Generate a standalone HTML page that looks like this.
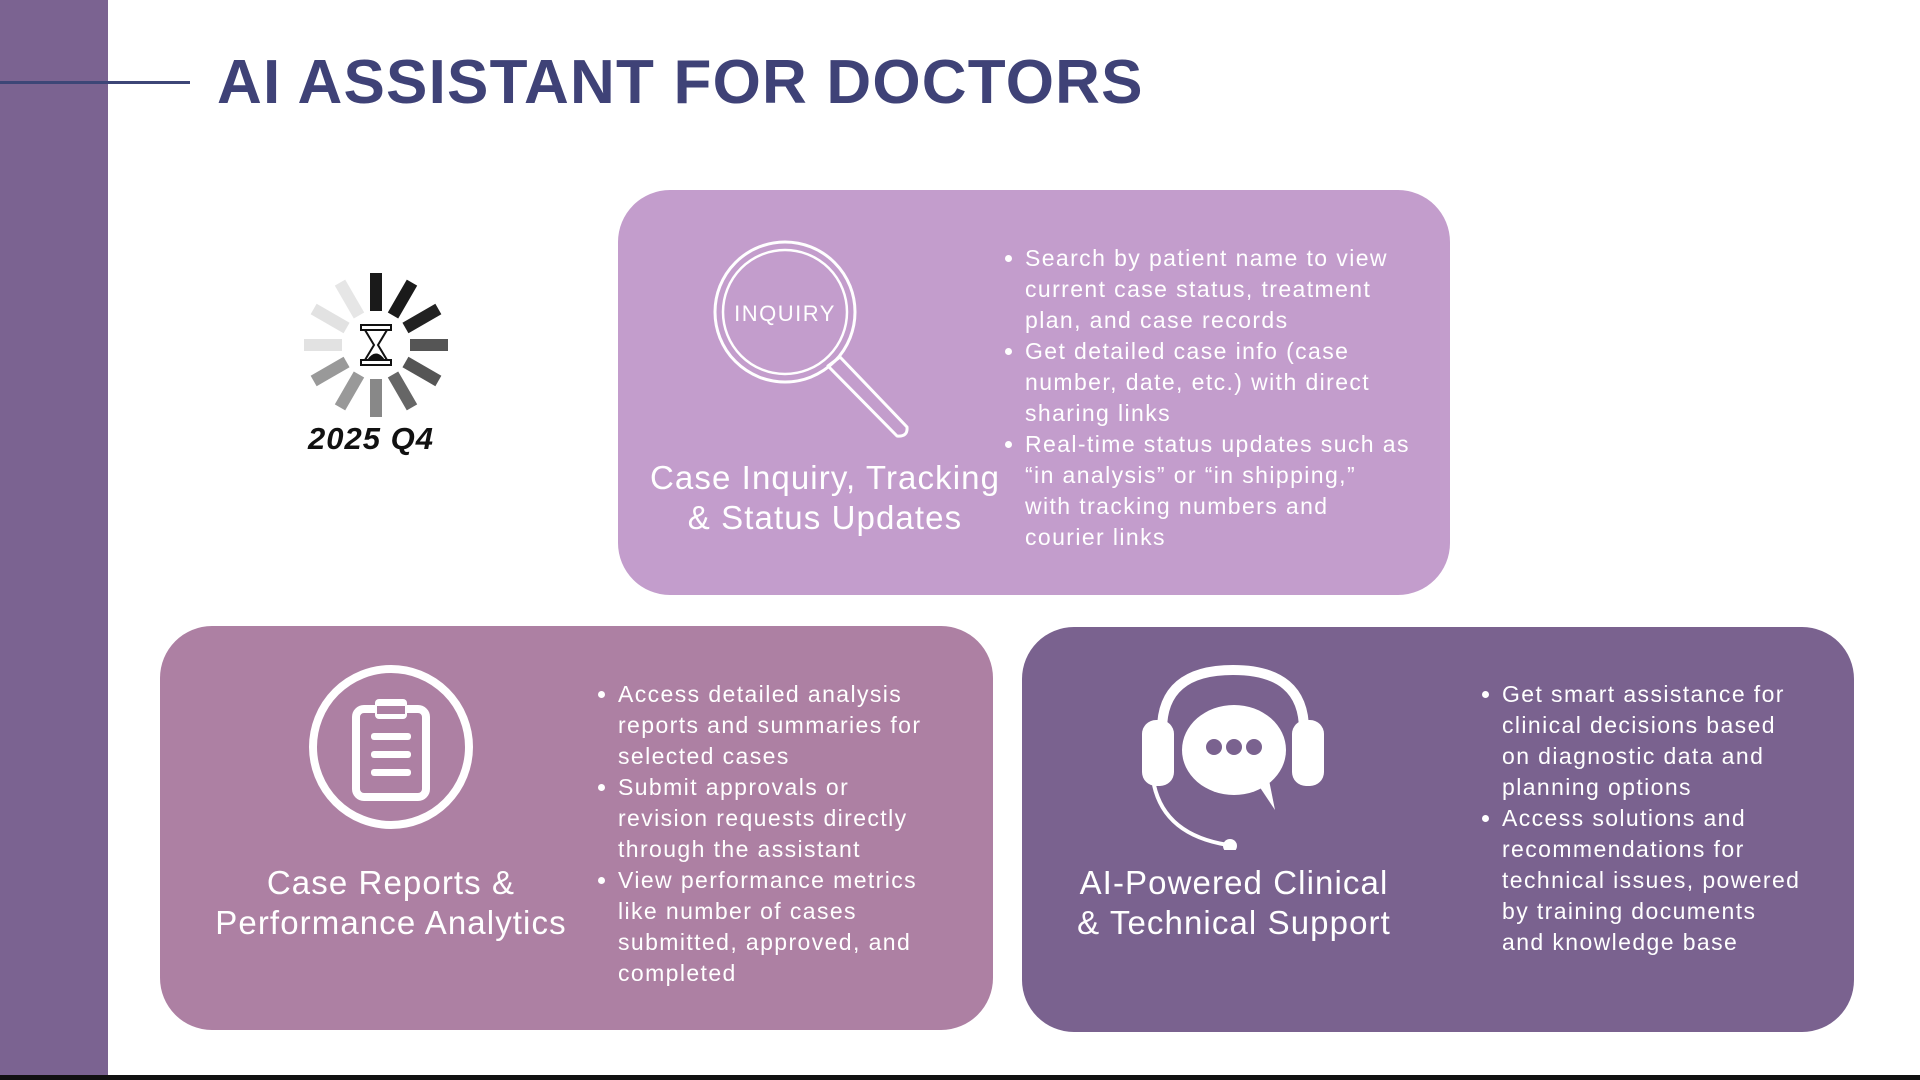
<!DOCTYPE html>
<html><head><meta charset="utf-8"><style>
html,body{margin:0;padding:0}
body{width:1920px;height:1080px;position:relative;overflow:hidden;background:#fff;font-family:"Liberation Sans",sans-serif}
.abs{position:absolute}
.box{position:absolute;border-radius:52px}
.ttl{position:absolute;color:#fff;font-size:33px;line-height:40px;text-align:center;letter-spacing:1.1px;white-space:nowrap}
ul{position:absolute;margin:0;padding:0 0 0 20px;color:#fff;font-size:23px;line-height:31px;letter-spacing:1.4px;list-style:none}
li{position:relative;white-space:nowrap}
li::before{content:"";position:absolute;left:-20px;top:12px;width:7px;height:7px;border-radius:50%;background:#fff}
li.n::before{display:none}
</style></head><body>
<div class="abs" style="left:0;top:0;width:108px;height:1080px;background:#7b6391"></div>
<div class="abs" style="left:0;top:81px;width:190px;height:3px;background:#3d4677"></div>
<div class="abs" style="left:217px;top:48px;font-size:62px;font-weight:bold;color:#3f4277;letter-spacing:1.2px;white-space:nowrap;line-height:70px">AI ASSISTANT FOR DOCTORS</div>
<div class="abs" style="left:0;top:1075px;width:1920px;height:5px;background:#111"></div>

<!-- spinner -->
<svg class="abs" style="left:296px;top:265px" width="160" height="160" viewBox="-80 -80 160 160">
<g>
<rect x="-6" y="-72" width="12" height="38" fill="#1a1a1a"/>
<rect x="-6" y="-72" width="12" height="38" fill="#1a1a1a" transform="rotate(30)"/>
<rect x="-6" y="-72" width="12" height="38" fill="#222" transform="rotate(60)"/>
<rect x="-6" y="-72" width="12" height="38" fill="#555" transform="rotate(90)"/>
<rect x="-6" y="-72" width="12" height="38" fill="#555" transform="rotate(120)"/>
<rect x="-6" y="-72" width="12" height="38" fill="#666" transform="rotate(150)"/>
<rect x="-6" y="-72" width="12" height="38" fill="#888" transform="rotate(180)"/>
<rect x="-6" y="-72" width="12" height="38" fill="#999" transform="rotate(210)"/>
<rect x="-6" y="-72" width="12" height="38" fill="#999" transform="rotate(240)"/>
<rect x="-6" y="-72" width="12" height="38" fill="#e2e2e2" transform="rotate(270)"/>
<rect x="-6" y="-72" width="12" height="38" fill="#e2e2e2" transform="rotate(300)"/>
<rect x="-6" y="-72" width="12" height="38" fill="#e6e6e6" transform="rotate(330)"/>
</g>
<rect x="-15" y="-20" width="30" height="5" fill="#fff" stroke="#111" stroke-width="2"/>
<rect x="-15" y="15" width="30" height="5" fill="#fff" stroke="#111" stroke-width="2"/>
<path d="M-11,-15 L11,-15 L2,0 L11,15 L-11,15 L-2,0 Z" fill="#fff" stroke="#111" stroke-width="2"/>
<path d="M-9,15 Q0,2 9,15 Z" fill="#111"/>
</svg>
<div class="abs" style="left:291px;top:421px;width:160px;text-align:center;font-size:31px;font-weight:bold;font-style:italic;color:#111;letter-spacing:1px">2025 Q4</div>

<!-- top box -->
<div class="box" style="left:618px;top:190px;width:832px;height:405px;background:#c39dcc"></div>
<svg class="abs" style="left:700px;top:230px" width="230" height="220">
<circle cx="85" cy="82" r="70" fill="none" stroke="#fff" stroke-width="3"/>
<circle cx="85" cy="82" r="62" fill="none" stroke="#fff" stroke-width="2.5"/>
<path d="M128,136 L140,127 L207,197 Q208,207 197,206 Z" fill="none" stroke="#fff" stroke-width="3" stroke-linejoin="round"/>
<text x="85" y="91" text-anchor="middle" fill="#fff" font-family="Liberation Sans" font-size="22" letter-spacing="1.5">INQUIRY</text>
</svg>
<div class="ttl" style="left:625px;top:458px;width:400px">Case Inquiry, Tracking<br>&amp; Status Updates</div>
<ul style="left:1005px;top:243px">
<li>Search by patient name to view</li><li class="n">current case status, treatment</li><li class="n">plan, and case records</li>
<li>Get detailed case info (case</li><li class="n">number, date, etc.) with direct</li><li class="n">sharing links</li>
<li>Real-time status updates such as</li><li class="n">“in analysis” or “in shipping,”</li><li class="n">with tracking numbers and</li><li class="n">courier links</li>
</ul>

<!-- bottom left -->
<div class="box" style="left:160px;top:626px;width:833px;height:404px;background:#ad80a3"></div>
<svg class="abs" style="left:305px;top:661px" width="172" height="172">
<circle cx="86" cy="86" r="78" fill="none" stroke="#fff" stroke-width="8"/>
<rect x="51" y="48" width="70" height="88" rx="8" fill="none" stroke="#fff" stroke-width="8"/>
<rect x="70" y="38" width="32" height="20" rx="4" fill="#fff"/>
<rect x="72" y="45" width="28" height="8" fill="#ad80a3"/>
<rect x="66" y="72" width="40" height="7" rx="3" fill="#fff"/>
<rect x="66" y="90" width="40" height="7" rx="3" fill="#fff"/>
<rect x="66" y="108" width="40" height="7" rx="3" fill="#fff"/>
</svg>
<div class="ttl" style="left:191px;top:863px;width:400px">Case Reports &amp;<br>Performance Analytics</div>
<ul style="left:598px;top:679px">
<li>Access detailed analysis</li><li class="n">reports and summaries for</li><li class="n">selected cases</li>
<li>Submit approvals or</li><li class="n">revision requests directly</li><li class="n">through the assistant</li>
<li>View performance metrics</li><li class="n">like number of cases</li><li class="n">submitted, approved, and</li><li class="n">completed</li>
</ul>

<!-- bottom right -->
<div class="box" style="left:1022px;top:627px;width:832px;height:405px;background:#7a628f"></div>
<svg class="abs" style="left:1140px;top:660px" width="200" height="190">
<path d="M22,70 Q22,10 93,10 Q164,10 164,70" fill="none" stroke="#fff" stroke-width="10"/>
<rect x="2" y="60" width="32" height="66" rx="14" fill="#fff"/>
<rect x="152" y="60" width="32" height="66" rx="14" fill="#fff"/>
<ellipse cx="94" cy="90" rx="52" ry="45" fill="#fff"/>
<path d="M115,120 L135,150 L128,115 Z" fill="#fff"/>
<circle cx="74" cy="87" r="8" fill="#7a628f"/><circle cx="94" cy="87" r="8" fill="#7a628f"/><circle cx="114" cy="87" r="8" fill="#7a628f"/>
<path d="M14,125 Q25,175 88,185" fill="none" stroke="#fff" stroke-width="4"/>
<circle cx="90" cy="186" r="7" fill="#fff"/>
</svg>
<div class="ttl" style="left:1034px;top:863px;width:400px">AI-Powered Clinical<br>&amp; Technical Support</div>
<ul style="left:1482px;top:679px">
<li>Get smart assistance for</li><li class="n">clinical decisions based</li><li class="n">on diagnostic data and</li><li class="n">planning options</li>
<li>Access solutions and</li><li class="n">recommendations for</li><li class="n">technical issues, powered</li><li class="n">by training documents</li><li class="n">and knowledge base</li>
</ul>
</body></html>
